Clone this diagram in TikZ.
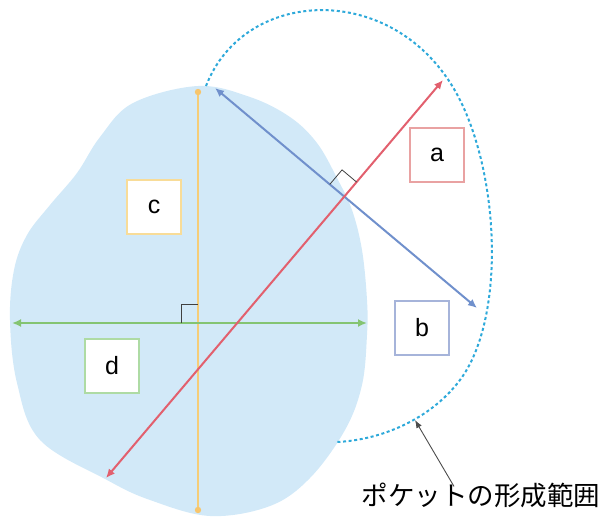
\documentclass[tikz,border=0pt]{standalone}
\usepackage{fontspec}
\setmainfont{Liberation Sans}
\newfontfamily\jpfont{Noto Sans CJK JP}
\usepackage{xcolor}
\usetikzlibrary{arrows.meta,positioning,calc}

\definecolor{blobblue}{HTML}{D2E9F8}
\definecolor{pocketcyan}{HTML}{2EA9DA}
\definecolor{linered}{HTML}{E2606E}
\definecolor{lineblue}{HTML}{7090CC}
\definecolor{linegreen}{HTML}{84C472}
\definecolor{lineyellow}{HTML}{F6CD78}
\definecolor{boxred}{HTML}{E9A2A2}
\definecolor{boxblue}{HTML}{A6B4DA}
\definecolor{boxyellow}{HTML}{F8DC98}
\definecolor{boxgreen}{HTML}{AEDBA4}

\begin{document}
\begin{tikzpicture}[x=1pt,y=-1pt,
  lbl/.style={draw,line width=1.6pt,fill=white,minimum size=54pt,inner sep=0pt,font=\fontsize{25}{27}\selectfont},
  axis/.style={line width=2pt,{Latex[length=9pt,width=8pt]}-{Latex[length=9pt,width=8pt]}},
  rmark/.style={draw=black!75,line width=0.8pt}]
  \useasboundingbox (0,0) rectangle (606,517);
  % blob
  \fill[blobblue] plot[smooth cycle,tension=0.6] coordinates {
    (198,86) (250,97) (290,117) (317,143) (337,178) (352,210) (362,250)
    (367,300) (367,335) (362,385) (345,430) (310,478) (270,506) (210,516)
    (150,500) (107,480) (40,440) (17,383) (10,320) (14,270) (27,235)
    (50,205) (77,173) (100,137) (133,103)};
  % pocket range
  \draw[pocketcyan,line width=2pt,dash pattern=on 3pt off 2.6pt]
    (206,86) .. controls (245,-15) and (400,-20) .. (460,100)
    .. controls (500,180) and (505,320) .. (460,380)
    .. controls (430,420) and (380,440) .. (337,442);
  % end points
  \coordinate (ytop) at (198,92);
  \coordinate (ybot) at (198,510);
  \coordinate (gl) at (12,323);
  \coordinate (gr) at (367,323);
  \coordinate (bl) at (215,88);
  \coordinate (br) at (477,308);
  \coordinate (rl) at (106,478);
  \coordinate (rr) at (443,80);
  \coordinate (pk) at (415,420);
  % axes
  \draw[lineyellow,line width=2.2pt] (ytop) -- (ybot);
  \fill[lineyellow!90!orange] (ytop) circle (3.2pt) (ybot) circle (3.2pt);
  \draw[axis,linegreen] (gl) -- (gr);
  \draw[axis,lineblue] (bl) -- (br);
  \draw[axis,linered] (rl) -- (rr);
  % right angles
  \draw[rmark] (181,323) -- (181,304) -- (198,304);
  \coordinate (x) at (intersection of bl--br and rl--rr);
  \coordinate (m1) at ($(x)!19pt!(bl)$);
  \coordinate (m2) at ($(x)!19pt!(rr)$);
  \draw[rmark] (m1) -- ($(m1)+(m2)-(x)$) -- (m2);
  % labels
  \node[lbl,draw=boxred] (a) at (437,155) {a};
  \node[lbl,draw=boxblue] (b) at (422,328) {b};
  \node[lbl,draw=boxyellow] (c) at (154,207) {c};
  \node[lbl,draw=boxgreen] (d) at (112,366) {d};
  \node[inner sep=1pt,font=\jpfont\fontsize{26.5}{28}\selectfont] (pkt) at (481,495) {ポケットの形成範囲};
  \draw[black!70,line width=0.9pt,-{Latex[length=8pt,width=6pt]}] ([xshift=-27pt,yshift=-5pt]pkt.north) -- (pk);
\end{tikzpicture}
\end{document}
